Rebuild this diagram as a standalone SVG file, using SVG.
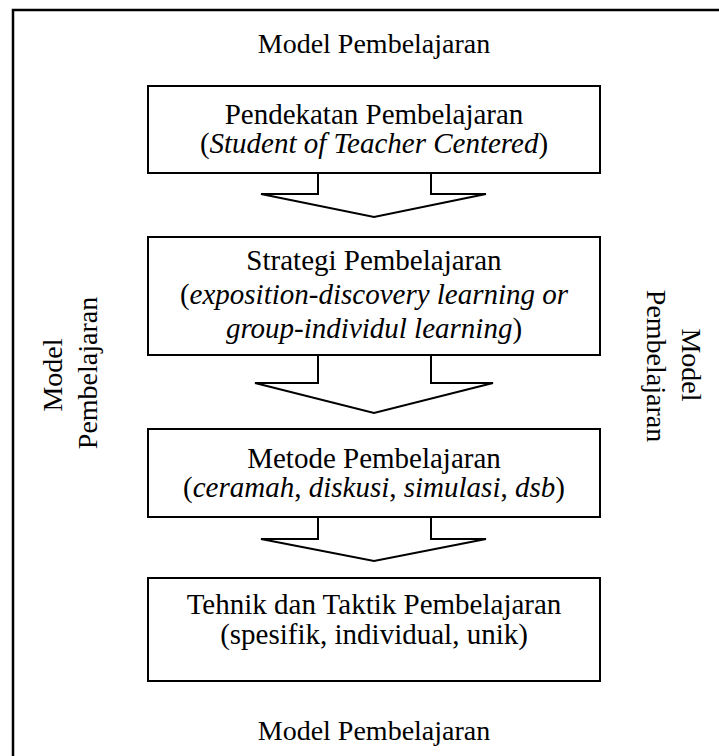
<svg xmlns="http://www.w3.org/2000/svg" width="719" height="756" viewBox="0 0 719 756">
  <style>
    .t { font-family: "Liberation Serif", "Times New Roman", serif; font-size: 28px; fill: #000; text-anchor: middle; }
    .b { font-size: 29px; }
    .i { font-style: italic; }
    .box { fill: #fff; stroke: #000; stroke-width: 2; }
    .arr { fill: #fff; stroke: #000; stroke-width: 2; stroke-linejoin: miter; }
    .frame { fill: none; stroke: #000; stroke-width: 2.5; }
  </style>
  <defs>
    <clipPath id="clip2"><rect x="149" y="238" width="450" height="106"/></clipPath>
  </defs>
  <rect width="719" height="756" fill="#fff"/>
  <g id="frame">
    <polyline class="frame" points="13,760 13,10 722,10"/>
  </g>
  <g id="label-top"><text class="t" x="374" y="53">Model Pembelajaran</text></g>
  <g id="label-bottom"><text class="t" x="374" y="740">Model Pembelajaran</text></g>
  <g id="label-left">
    <text class="t" transform="translate(62,375) rotate(-90)">Model</text>
    <text class="t" transform="translate(97,373) rotate(-90)">Pembelajaran</text>
  </g>
  <g id="label-right">
    <text class="t" transform="translate(682,365) rotate(90)">Model</text>
    <text class="t" transform="translate(647,366) rotate(90)">Pembelajaran</text>
  </g>
  <g id="connectors">
    <polyline class="arr" points="318,173 318,194 261,194 374,217 486,194 431,194 431,173"/>
    <polyline class="arr" points="318,355 318,383 255,383 374,413 493,383 431,383 431,355"/>
    <polyline class="arr" points="318,517 318,539 261,539 374,561 486,539 431,539 431,517"/>
  </g>
  <g id="node-pendekatan">
    <rect class="box" x="148" y="86" width="452" height="87"/>
    <text class="t b" x="374" y="124">Pendekatan Pembelajaran</text>
    <text class="t b" x="374" y="153">(<tspan class="i">Student of Teacher Centered</tspan>)</text>
  </g>
  <g id="node-strategi">
    <rect class="box" x="148" y="237" width="452" height="118"/>
    <g clip-path="url(#clip2)">
      <text class="t b" x="374" y="270">Strategi Pembelajaran</text>
      <text class="t b" x="374" y="304">(<tspan class="i">exposition-discovery learning or</tspan></text>
      <text class="t b" x="374" y="338"><tspan class="i">group-individul learning</tspan>)</text>
    </g>
  </g>
  <g id="node-metode">
    <rect class="box" x="148" y="429" width="452" height="88"/>
    <text class="t b" x="374" y="468">Metode Pembelajaran</text>
    <text class="t b" x="374" y="497">(<tspan class="i">ceramah</tspan>, <tspan class="i">diskusi</tspan>, <tspan class="i">simulasi</tspan>, <tspan class="i">dsb</tspan>)</text>
  </g>
  <g id="node-tehnik">
    <rect class="box" x="148" y="578" width="452" height="103"/>
    <text class="t b" x="374" y="614">Tehnik dan Taktik Pembelajaran</text>
    <text class="t b" x="374" y="644">(spesifik, individual, unik)</text>
  </g>
</svg>
